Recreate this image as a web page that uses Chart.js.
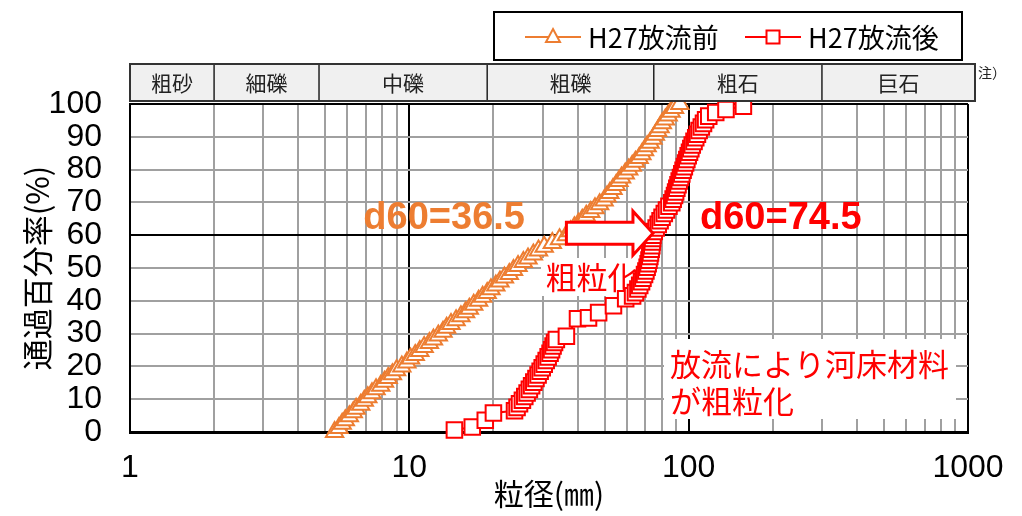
<!DOCTYPE html>
<html lang="ja">
<head>
<meta charset="utf-8">
<title>粒径加積曲線 H27放流前後</title>
<script src="https://cdn.jsdelivr.net/npm/chart.js@4.4.1/dist/chart.umd.min.js"></script>
<style>
  html, body { margin: 0; padding: 0; background: #fff; }
  #wrap { width: 1022px; height: 516px; }
</style>
</head>
<body>
<div id="wrap"><canvas id="grain" width="1022" height="516"></canvas></div>
<script>
// H27放流前: 粒径 (mm) と通過百分率 (%)
const beforeSize = [5.4,5.6,5.75,5.9,6.1,6.3,6.45,6.7,6.9,7.1,7.35,7.6,7.9,8.15,8.4,8.7,9.0,9.4,9.8,10.1,
  10.5,10.9,11.3,11.8,12.2,12.7,13.2,13.6,14.1,14.7,15.3,15.9,16.4,17.0,17.7,18.3,19.0,19.6,20.4,21.1,
  21.9,22.8,23.6,24.5,25.6,26.6,27.8,29.0,30.4,32.5,34.5,36.5,37.8,39.0,40.3,41.6,43.0,44.6,46.2,48.0,
  49.8,51.0,52.2,53.6,55.0,56.3,57.5,59.3,61.0,62.8,64.5,66.5,68.0,69.5,71.0,72.8,74.5,76.0,77.5,79.0,
  80.5,82.5,84.5,86.5,89.0,93.0];
const beforePassing = [0.0,1.2,2.5,3.6,4.8,6.0,7.1,8.3,9.5,10.6,11.8,13.0,14.1,15.3,16.5,17.6,18.8,20.0,21.2,22.4,
  23.5,24.7,25.9,27.1,28.2,29.4,30.6,31.8,32.9,34.1,35.3,36.5,37.6,38.8,40.0,41.2,42.4,43.5,44.7,45.9,
  47.1,48.2,49.4,50.6,51.8,52.9,54.1,55.3,56.5,57.6,58.8,60.0,61.2,62.4,63.5,64.7,65.9,67.1,68.2,69.4,
  70.6,71.8,72.9,74.1,75.3,76.5,77.6,78.8,80.0,81.2,82.4,83.5,84.7,85.9,87.1,88.2,89.4,90.6,91.8,92.9,
  94.1,95.3,96.5,97.6,98.8,100.0];

// H27放流後: 粒径 (mm) と通過百分率 (%)
const afterSize = [14.5,16.8,18.7,20.0,23.8,24.3,24.8,25.4,25.9,26.4,26.9,27.4,27.9,28.4,28.9,29.4,29.9,30.4,30.9,31.4,
  31.9,32.3,32.7,33.1,33.6,36.5,40.0,43.8,47.6,53.8,59.5,63.0,64.5,65.8,66.8,67.8,68.6,69.5,70.3,71.0,
  71.6,72.1,72.6,73.0,73.4,73.8,74.1,74.3,74.5,75.3,76.5,77.8,79.0,80.3,81.8,83.3,85.0,87.0,88.0,89.0,
  89.8,90.7,91.6,92.5,93.5,94.5,95.5,96.5,97.5,98.5,99.6,100.7,101.8,103.0,104.5,106.0,107.5,109.0,111.0,113.0,
  115.0,118.0,125.0,136.0,157.0];
const afterPassing = [0.6,1.5,3.6,5.8,6.5,7.5,8.6,9.7,10.8,11.9,13.0,14.1,15.2,16.3,17.4,18.5,19.6,20.7,21.8,22.9,
  24.0,25.1,26.2,27.3,28.2,29.2,34.5,34.8,36.4,38.5,40.6,41.5,42.5,43.6,44.7,45.8,46.9,48.0,49.1,50.2,
  51.3,52.4,53.5,54.6,55.7,56.8,57.9,59.0,60.0,61.1,62.2,63.3,64.4,65.5,66.6,67.7,68.8,69.9,71.0,72.1,
  73.2,74.3,75.4,76.5,77.6,78.7,79.8,80.9,82.0,83.1,84.2,85.3,86.4,87.5,88.6,89.7,90.8,91.9,93.0,94.1,
  95.2,96.3,97.4,98.3,99.3];

const seriesNames = ['H27放流前', 'H27放流後'];
const xTickLabels = [1, 10, 100, 1000];          // 対数軸の主目盛 (mm)
const yTickStep = 10;                             // 通過百分率の目盛間隔 (%)
const gradeNames = ['粗砂', '細礫', '中礫', '粗礫', '粗石', '巨石'];
const gradeBounds = [2, 4.75, 19, 75, 300];       // 土質区分の境界粒径 (mm)
const d60Before = 36.5;
const d60After = 74.5;
const d60Percent = 60;

const ORANGE = '#ED7D31';
const RED = '#FF0000';
const GRID_GRAY = '#a0a0a0';
const NUM_FONT = "'Liberation Sans Narrow', 'Liberation Sans', sans-serif";
const JP_FONT = "'Noto Sans CJK JP', 'Noto Sans', sans-serif";

const toPoints = (xs, ys) => xs.map((x, i) => ({ x: x, y: ys[i] }));

// 1〜9 × 10^n の位置に縦の格子線を引く
const logGridValues = [];
for (let i = 0; i < xTickLabels.length - 1; i++) {
  for (let m = 1; m <= 9; m++) logGridValues.push(xTickLabels[i] * m);
}
logGridValues.push(xTickLabels[xTickLabels.length - 1]);

// 土質区分の帯、凡例、注記
const decorations = {
  id: 'decorations',
  beforeDatasetsDraw(chart) {
    const { ctx } = chart;
    ctx.save();
    // 「粗粒化」ラベル
    ctx.fillStyle = '#fff';
    ctx.fillRect(541, 258, 102, 38);
    ctx.fillStyle = RED;
    ctx.font = '31px ' + JP_FONT;
    ctx.textAlign = 'center';
    ctx.textBaseline = 'middle';
    ctx.fillText('粗粒化', 592, 277);
    // 説明文
    ctx.fillStyle = '#fff';
    ctx.fillRect(664, 339, 292, 80);
    ctx.fillStyle = RED;
    ctx.textAlign = 'left';
    ctx.fillText('放流により河床材料', 670, 364);
    ctx.fillText('が粗粒化', 670, 401);
    ctx.restore();
  },
  afterDatasetsDraw(chart) {
    const { ctx } = chart;
    const xs = chart.scales.x, ys = chart.scales.y;
    const x0 = xs.getPixelForValue(d60Before);
    const x1 = xs.getPixelForValue(d60After);
    const yc = ys.getPixelForValue(d60Percent) - 2;
    const shaftHalf = 11, headHalf = 22, headLen = 20;
    ctx.save();
    ctx.beginPath();
    ctx.moveTo(x0, yc - shaftHalf);
    ctx.lineTo(x1 - headLen, yc - shaftHalf);
    ctx.lineTo(x1 - headLen, yc - headHalf);
    ctx.lineTo(x1, yc);
    ctx.lineTo(x1 - headLen, yc + headHalf);
    ctx.lineTo(x1 - headLen, yc + shaftHalf);
    ctx.lineTo(x0, yc + shaftHalf);
    ctx.closePath();
    ctx.fillStyle = '#fff';
    ctx.fill();
    ctx.strokeStyle = RED;
    ctx.lineWidth = 3;
    ctx.lineJoin = 'miter';
    ctx.stroke();

    ctx.font = "bold 38px 'Liberation Sans', sans-serif";
    ctx.textBaseline = 'alphabetic';
    ctx.fillStyle = ORANGE;
    ctx.textAlign = 'right';
    ctx.fillText('d60=' + d60Before.toFixed(1), 525, 229);
    ctx.fillStyle = RED;
    ctx.textAlign = 'left';
    ctx.fillText('d60=' + d60After.toFixed(1), 700, 229);
    ctx.restore();
  },
  afterDraw(chart) {
    const { ctx, chartArea } = chart;
    const xs = chart.scales.x;
    ctx.save();

    // 土質区分の帯
    const bandTop = 64, bandBottom = 101;
    const bandLeft = chartArea.left, bandRight = chartArea.right + 7;
    ctx.fillStyle = '#f0f0f0';
    ctx.fillRect(bandLeft, bandTop, bandRight - bandLeft, bandBottom - bandTop);
    const edges = [bandLeft].concat(gradeBounds.map(v => xs.getPixelForValue(v)), [bandRight]);
    ctx.strokeStyle = '#222';
    ctx.lineWidth = 1.5;
    for (let i = 1; i < edges.length - 1; i++) {
      ctx.beginPath();
      ctx.moveTo(edges[i], bandTop);
      ctx.lineTo(edges[i], bandBottom);
      ctx.stroke();
    }
    ctx.lineWidth = 2;
    ctx.strokeStyle = '#333';
    ctx.strokeRect(bandLeft, bandTop, bandRight - bandLeft, bandBottom - bandTop);
    ctx.fillStyle = '#222';
    ctx.font = '21px ' + JP_FONT;
    ctx.textAlign = 'center';
    ctx.textBaseline = 'middle';
    gradeNames.forEach((name, i) => {
      ctx.fillText(name, (edges[i] + edges[i + 1]) / 2, (bandTop + bandBottom) / 2 + 1);
    });
    ctx.font = '14px ' + JP_FONT;
    ctx.textAlign = 'left';
    ctx.fillText('注）', bandRight + 3, 73);

    // 凡例
    ctx.fillStyle = '#fff';
    ctx.fillRect(494, 12, 468, 48);
    ctx.strokeStyle = '#000';
    ctx.lineWidth = 2;
    ctx.strokeRect(494, 12, 468, 48);
    const ly = 37;
    const items = [
      { x: 525, color: ORANGE, shape: 'triangle', label: seriesNames[0] },
      { x: 745, color: RED, shape: 'square', label: seriesNames[1] }
    ];
    items.forEach(it => {
      ctx.strokeStyle = it.color;
      ctx.lineWidth = 2;
      ctx.beginPath();
      ctx.moveTo(it.x, ly);
      ctx.lineTo(it.x + 56, ly);
      ctx.stroke();
      const cx = it.x + 28;
      ctx.fillStyle = '#fff';
      ctx.beginPath();
      if (it.shape === 'triangle') {
        ctx.moveTo(cx, ly - 8);
        ctx.lineTo(cx + 7, ly + 5);
        ctx.lineTo(cx - 7, ly + 5);
        ctx.closePath();
      } else {
        ctx.rect(cx - 6.5, ly - 6.5, 13, 13);
      }
      ctx.fill();
      ctx.stroke();
      ctx.fillStyle = '#000';
      ctx.font = "27px 'Liberation Sans Narrow', " + JP_FONT;
      ctx.textAlign = 'left';
      ctx.textBaseline = 'middle';
      ctx.fillText(it.label, it.x + 63, ly + 1);
    });
    ctx.restore();
  }
};

new Chart(document.getElementById('grain'), {
  type: 'scatter',
  data: {
    datasets: [
      {
        label: seriesNames[0],
        data: toPoints(beforeSize, beforePassing),
        showLine: true,
        borderColor: ORANGE,
        borderWidth: 2,
        pointStyle: 'triangle',
        pointRadius: 10,
        pointBorderWidth: 2,
        pointBackgroundColor: '#fff',
        pointBorderColor: ORANGE,
        tension: 0,
        clip: false
      },
      {
        label: seriesNames[1],
        data: toPoints(afterSize, afterPassing),
        showLine: true,
        borderColor: RED,
        borderWidth: 2,
        pointStyle: 'rect',
        pointRadius: 11,
        pointBorderWidth: 2,
        pointBackgroundColor: '#fff',
        pointBorderColor: RED,
        tension: 0,
        clip: false
      }
    ]
  },
  options: {
    responsive: false,
    animation: false,
    devicePixelRatio: 1,
    layout: { padding: { top: 104, right: 54, left: 0, bottom: 0 } },
    plugins: { legend: { display: false }, tooltip: { enabled: false } },
    scales: {
      x: {
        type: 'logarithmic',
        min: xTickLabels[0],
        max: xTickLabels[xTickLabels.length - 1],
        afterBuildTicks(scale) {
          scale.ticks = logGridValues.map(v => ({ value: v, major: xTickLabels.includes(v) }));
        },
        afterFit(scale) { scale.height = 84; },
        ticks: {
          autoSkip: false,
          maxRotation: 0,
          padding: 17,
          color: '#000',
          font: { family: NUM_FONT, size: 32 },
          callback: v => (xTickLabels.includes(v) ? String(v) : '')
        },
        grid: {
          drawTicks: false,
          lineWidth: 2,
          color: c => (c.tick && xTickLabels.includes(c.tick.value) ? '#000' : GRID_GRAY)
        },
        border: { display: true, color: '#000', width: 3 },
        title: {
          display: true,
          text: '粒径(㎜)',
          color: '#000',
          font: { family: JP_FONT, size: 30 },
          padding: { top: 4, bottom: 4 }
        }
      },
      y: {
        min: 0,
        max: 100,
        afterFit(scale) { scale.width = 130; },
        ticks: {
          stepSize: yTickStep,
          autoSkip: false,
          padding: 28,
          color: '#000',
          font: { family: NUM_FONT, size: 32 }
        },
        grid: {
          drawTicks: false,
          lineWidth: 2,
          color: c => (c.tick && (c.tick.value === d60Percent || c.tick.value === 100) ? '#000' : GRID_GRAY)
        },
        border: { display: true, color: '#000', width: 2 },
        title: {
          display: true,
          text: '通過百分率(%)',
          color: '#000',
          font: { family: JP_FONT, size: 31 },
          padding: { top: 19, bottom: 19 }
        }
      }
    }
  },
  plugins: [decorations]
});
</script>
</body>
</html>
